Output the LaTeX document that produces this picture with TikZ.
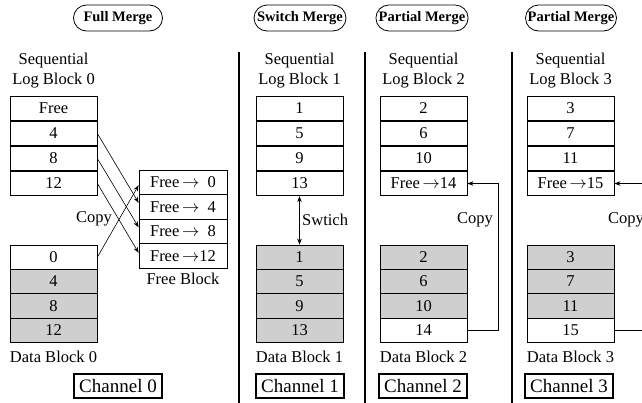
\documentclass[tikz,border=0pt]{standalone}
\usepackage{fontspec}
\setmainfont{Liberation Serif}
\usetikzlibrary{arrows.meta,shapes.misc}
\begin{document}
\begin{tikzpicture}[x=1pt,y=-1pt,
  txt/.style={font=\fontsize{16.5}{20}\selectfont, align=center, inner sep=0pt},
  cell/.style={draw, line width=0.8pt, minimum width=87pt, minimum height=24.5pt, inner sep=0pt, font=\fontsize{16.5}{20}\selectfont},
  dcell/.style={cell, minimum height=24.3pt},
  gcell/.style={dcell, fill=black!19},
  pill/.style={draw, rounded rectangle, line width=0.8pt, minimum height=26pt, minimum width=91pt, inner xsep=1pt, font=\fontsize{14.5}{16}\selectfont\bfseries},
  chan/.style={draw, line width=2.5pt, minimum width=88pt, minimum height=24pt, inner sep=0pt, font=\fontsize{19}{22}\selectfont},
  sep/.style={line width=1.2pt},
  conn/.style={line width=0.6pt, -{Stealth[length=6pt,width=4.5pt]}},
  biconn/.style={line width=0.6pt, {Stealth[length=6pt,width=4.5pt]}-{Stealth[length=6pt,width=4.5pt]}}
]
\useasboundingbox (0,0) rectangle (642,402);
\clip (0,0) rectangle (642,402);

% titles
\node[pill] (t0) at (118,18) {Full Merge};
\node[pill, minimum width=94pt] (t1) at (300,18) {Switch Merge};
\node[pill] (t2) at (422,18) {Partial Merge};
\node[pill, minimum width=93pt] (t3) at (571,18) {Partial Merge};

% separators
\coordinate (s1a) at (239,52); \coordinate (s1b) at (239,404);
\coordinate (s2a) at (365,52); \coordinate (s2b) at (365,404);
\coordinate (s3a) at (512,52); \coordinate (s3b) at (512,404);
\draw[sep] (s1a) -- (s1b);
\draw[sep] (s2a) -- (s2b);
\draw[sep] (s3a) -- (s3b);

% ---------- Channel 0 ----------
\node[txt] (h0) at (53.5,71) {Sequential\\Log Block 0};
\node[cell] (l01) at (53.5,108.5) {Free};
\node[cell] (l02) at (53.5,133.5) {4};
\node[cell] (l03) at (53.5,158.5) {8};
\node[cell] (l04) at (53.5,183.5) {12};
\node[dcell] (d01) at (53.5,257.15) {0};
\node[gcell] (d02) at (53.5,281.45) {4};
\node[gcell] (d03) at (53.5,305.75) {8};
\node[gcell] (d04) at (53.5,330.05) {12};
\node[txt] (dl0) at (53.5,357) {Data Block 0};

\node[cell, minimum width=88pt] (f1) at (183,182.25) {Free\,$\rightarrow$\ \ 0};
\node[cell, minimum width=88pt] (f2) at (183,206.75) {Free\,$\rightarrow$\ \ 4};
\node[cell, minimum width=88pt] (f3) at (183,231.25) {Free\,$\rightarrow$\ \ 8};
\node[cell, minimum width=88pt] (f4) at (183,255.75) {Free\,$\rightarrow$12};
\node[txt] (fl) at (183,279) {Free Block};

\draw[conn] (l02.east) -- ([yshift=4pt]f2.west);
\draw[conn] (l03.east) -- ([yshift=4pt]f3.west);
\draw[conn] (l04.east) -- ([yshift=3pt]f4.west);
\draw[conn] (d01.east) -- ([yshift=-3pt]f1.west);
\node[txt] (c0) at (94,219) {Copy};

\node[chan] (ch0) at (118,386) {Channel 0};

% ---------- Channel 1 ----------
\node[txt] (h1) at (299.5,71) {Sequential\\Log Block 1};
\node[cell] (l11) at (299.5,108.5) {1};
\node[cell] (l12) at (299.5,133.5) {5};
\node[cell] (l13) at (299.5,158.5) {9};
\node[cell] (l14) at (299.5,183.5) {13};
\node[gcell] (d11) at (299.5,257.15) {1};
\node[gcell] (d12) at (299.5,281.45) {5};
\node[gcell] (d13) at (299.5,305.75) {9};
\node[gcell] (d14) at (299.5,330.05) {13};
\node[txt] (dl1) at (299.5,357) {Data Block 1};
\draw[biconn] (l14.south) -- (d11.north);
\node[txt, anchor=west] (c1) at (302,220) {Swtich};
\node[chan] (ch1) at (300,386) {Channel 1};

% ---------- Channel 2 ----------
\node[txt] (h2) at (423.5,71) {Sequential\\Log Block 2};
\node[cell] (l21) at (423.5,108.5) {2};
\node[cell] (l22) at (423.5,133.5) {6};
\node[cell] (l23) at (423.5,158.5) {10};
\node[cell] (l24) at (423.5,183.5) {Free\,$\rightarrow$14};
\node[gcell] (d21) at (423.5,257.15) {2};
\node[gcell] (d22) at (423.5,281.45) {6};
\node[gcell] (d23) at (423.5,305.75) {10};
\node[dcell] (d24) at (423.5,330.05) {14};
\node[txt] (dl2) at (423.5,357) {Data Block 2};
\draw[conn] (d24.east) -- ++(31,0) |- (l24.east);
\node[txt] (c2) at (475,220) {Copy};
\node[chan] (ch2) at (423,386) {Channel 2};

% ---------- Channel 3 ----------
\node[txt] (h3) at (570.5,71) {Sequential\\Log Block 3};
\node[cell] (l31) at (570.5,108.5) {3};
\node[cell] (l32) at (570.5,133.5) {7};
\node[cell] (l33) at (570.5,158.5) {11};
\node[cell] (l34) at (570.5,183.5) {Free\,$\rightarrow$15};
\node[gcell] (d31) at (570.5,257.15) {3};
\node[gcell] (d32) at (570.5,281.45) {7};
\node[gcell] (d33) at (570.5,305.75) {11};
\node[dcell] (d34) at (570.5,330.05) {15};
\node[txt] (dl3) at (570.5,357) {Data Block 3};
\draw[conn] (d34.east) -- ++(40,0) |- (l34.east);
\node[txt, anchor=west] (c3) at (608,220) {Copy};
\node[chan] (ch3) at (569,386) {Channel 3};
\end{tikzpicture}
\end{document}
